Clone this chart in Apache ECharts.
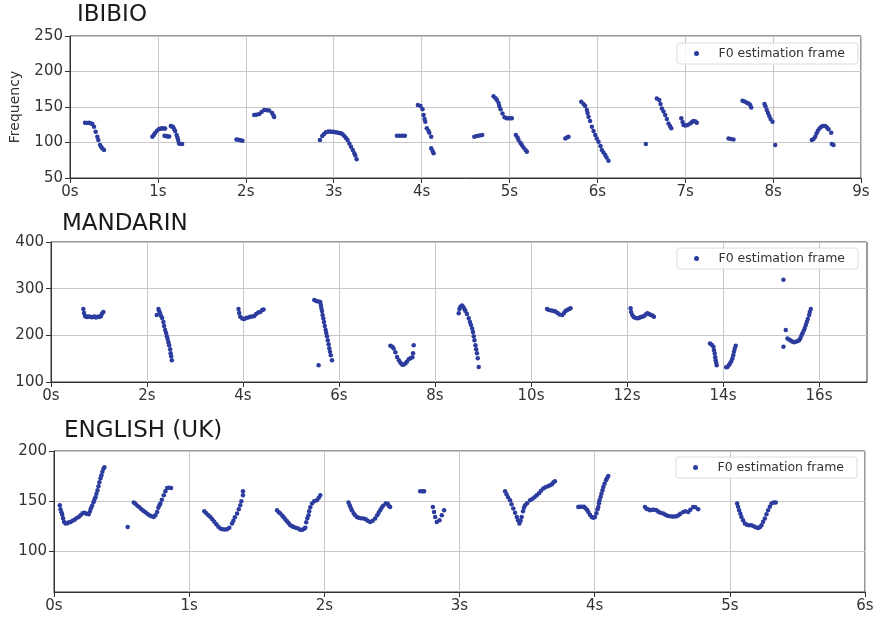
<!DOCTYPE html>
<html>
<head>
<meta charset="utf-8">
<title>F0 estimation</title>
<script src="https://cdn.jsdelivr.net/npm/echarts@6/dist/echarts.min.js"></script>
<style>
  html, body { margin: 0; padding: 0; background: #fff; }
  #chart { width: 877px; height: 619px; }
</style>
</head>
<body>
<div id="chart"></div>
<script>
var panelTitles = ['IBIBIO', 'MANDARIN', 'ENGLISH (UK)'];
var seriesName = 'F0 estimation frame';

// tick values
var ibibioXTicks = [0, 1, 2, 3, 4, 5, 6, 7, 8, 9];
var ibibioYTicks = [50, 100, 150, 200, 250];
var mandarinXTicks = [0, 2, 4, 6, 8, 10, 12, 14, 16];
var mandarinYTicks = [100, 200, 300, 400];
var englishXTicks = [0, 1, 2, 3, 4, 5, 6];
var englishYTicks = [100, 150, 200];

// [time (s), F0 (Hz)]
var ibibioPoints = [
  [0.171,127.8],[0.19,127.6],[0.216,127.8],[0.235,127],[0.254,126],[0.273,122.2],[0.292,115.1],[0.311,108.1],
  [0.322,103.4],[0.342,96.4],[0.355,93.5],[0.368,91.7],[0.387,89.4],
  [0.937,108.1],[0.953,110.5],[0.968,113.3],[0.99,116.5],[1.013,118.9],[1.03,119.5],[1.048,119.9],[1.065,119.8],
  [1.082,119.6],[1.075,109.5],[1.093,109],[1.11,108.6],[1.128,108.4],[1.147,123.1],[1.16,122.5],[1.173,121.7],
  [1.185,119],[1.196,116.1],[1.213,110.5],[1.222,107],[1.23,103.4],[1.24,98.5],[1.258,98],[1.276,97.8],
  [1.894,104.4],[1.915,104],[1.94,103],[1.962,102.4],
  [2.096,138.6],[2.12,139],[2.153,140],[2.18,143],[2.21,145.6],[2.24,145.5],[2.266,144.9],[2.3,141.4],[2.315,138],[2.323,135.8],
  [2.844,103.4],[2.87,109.1],[2.89,112],[2.912,114.3],[2.93,115],[2.95,115.4],[2.97,115.3],[2.995,115.1],[3.02,114.6],
  [3.041,114],[3.062,113.5],[3.083,112.9],[3.1,111.5],[3.121,109.1],[3.14,106.5],[3.158,103.4],[3.178,98.5],[3.197,94],
  [3.217,89.4],[3.235,84.7],[3.246,81.6],[3.261,76.3],
  [3.72,109.5],[3.75,109.5],[3.78,109.6],[3.81,109.4],
  [3.958,152.7],[3.988,151.3],[4.011,147],[4.023,138.6],[4.034,133],[4.042,129.2],[4.06,119.9],[4.08,116.1],[4.088,113.7],
  [4.11,108.1],[4.11,91.8],[4.125,88],[4.137,84.7],
  [4.6,108.1],[4.63,109],[4.66,110],[4.69,110.5],
  [4.819,165.3],[4.842,162.5],[4.857,159.7],[4.876,155.5],[4.884,151.3],[4.899,147],[4.921,141],[4.944,135.4],
  [4.967,134],[4.99,134],[5.01,134],[5.027,134],
  [5.073,110.5],[5.092,107],[5.104,103.4],[5.126,99.2],[5.141,96.4],[5.16,92.9],[5.183,89.4],[5.198,87],
  [5.635,105.8],[5.655,107],[5.672,108.1],
  [5.817,157.3],[5.843,154.1],[5.862,151.3],[5.881,145.6],[5.889,141.4],[5.9,136.2],[5.917,130.2],[5.938,122.2],
  [5.957,116.1],[5.976,110.5],[5.994,105.6],[6.013,101.1],[6.036,95],[6.051,89.4],[6.07,85.9],[6.09,82.3],[6.105,78.8],[6.127,74.3],
  [6.552,97.8],
  [6.677,162.1],[6.704,159.7],[6.719,154.1],[6.734,148],[6.753,143.5],[6.772,138.6],[6.791,133],[6.81,126.9],[6.827,123.1],[6.841,119.9],
  [6.955,134],[6.97,128.8],[6.981,124.5],[7.003,123.8],[7.026,124.5],[7.057,126.9],[7.077,128.8],[7.094,130.2],[7.117,129.5],[7.132,127.8],
  [7.493,105.8],[7.52,105],[7.549,104.4],
  [7.652,158.7],[7.675,157.6],[7.701,155.9],[7.72,154.8],[7.74,152.7],[7.751,149.4],
  [7.902,154.1],[7.914,150.6],[7.928,145.6],[7.942,141.4],[7.956,137.2],[7.971,133],[7.993,129.2],[8.024,96.4],
  [8.44,103.4],[8.46,104.9],[8.479,108.1],[8.494,112.6],[8.509,116.5],[8.528,119.6],[8.547,122.2],[8.568,123.1],
  [8.593,123.1],[8.613,121],[8.63,118.5],[8.661,113.7],[8.668,97.8],[8.687,96.4]
];

var mandarinPoints = [
  [0.674,256.4],[0.688,247.8],[0.709,241.4],[0.73,240],[0.751,239.2],[0.78,240.5],[0.813,239.9],[0.845,238.5],[0.876,239.2],
  [0.905,240.2],[0.938,238.2],[0.97,240],[1.001,239.2],[1.022,240.5],[1.043,241.4],[1.064,246.8],[1.091,250],
  [2.204,243.5],[2.238,256.4],[2.252,252.1],[2.273,247.8],[2.294,241.4],[2.315,237.1],[2.342,228.5],[2.357,219.9],
  [2.377,211.3],[2.398,204.8],[2.413,198.3],[2.43,191.9],[2.446,185.4],[2.461,179],[2.482,170.4],[2.492,161.8],[2.503,155.3],[2.517,146.7],
  [3.906,256.4],[3.921,247.8],[3.942,239.9],[3.983,236],[4.025,234.9],[4.067,237.1],[4.108,238.2],[4.15,239.9],[4.192,240.3],
  [4.234,241.4],[4.275,245.7],[4.317,248.9],[4.359,250],[4.4,254.3],[4.428,255.4],
  [5.485,275.8],[5.527,273.7],[5.568,272.6],[5.61,271.5],[5.621,265],[5.631,258.6],[5.646,252.1],[5.658,243.5],[5.673,236.4],
  [5.687,228.5],[5.704,219.9],[5.721,211.3],[5.735,204.8],[5.75,198.3],[5.766,189.7],[5.783,181.1],[5.798,172.5],[5.812,164.6],
  [5.829,157.5],[5.854,146.7],[5.575,135.9],
  [7.07,177.5],[7.112,175.7],[7.139,171.9],[7.174,163.9],[7.21,153.8],[7.247,146.7],[7.278,141.3],[7.314,137.4],[7.341,137],
  [7.383,139.6],[7.414,143.5],[7.452,148.8],[7.487,151],[7.529,153.2],[7.543,161.8],[7.556,179],
  [8.494,247.2],[8.509,256.4],[8.53,261.4],[8.561,264],[8.586,261.4],[8.613,256.4],[8.634,252.1],[8.665,245.7],[8.703,236.4],
  [8.728,228.5],[8.749,222],[8.774,214.9],[8.79,207],[8.807,198.3],[8.822,189.7],[8.843,179],[8.857,170.4],[8.874,161.8],
  [8.891,151],[8.911,132.3],
  [10.334,256.4],[10.371,254.3],[10.428,253.2],[10.469,252.1],[10.511,251.1],[10.553,247.8],[10.594,244.6],[10.651,243.5],
  [10.688,247.8],[10.72,252.1],[10.755,254.3],[10.793,256.4],[10.824,258],
  [12.075,258],[12.086,250],[12.111,243.5],[12.138,239.2],[12.18,237.1],[12.215,236.4],[12.253,237.1],[12.284,239.2],
  [12.32,239.9],[12.357,241.4],[12.388,244.6],[12.424,247.2],[12.461,245.7],[12.492,243.5],[12.528,242.5],[12.561,239.9],
  [13.729,182.6],[13.764,180],[13.8,175.3],[13.812,168.2],[13.827,161.1],[13.837,153.2],[13.848,146.7],[13.858,141.3],[13.869,135.9],
  [14.067,131.6],[14.092,132.3],[14.119,135.9],[14.146,139.6],[14.171,144.5],[14.196,150.4],[14.213,157.5],[14.229,164.6],
  [14.244,171.4],[14.265,177.5],
  [15.259,318.9],[15.308,211.3],[15.259,175.3],
  [15.343,193.4],[15.381,190.8],[15.412,188.7],[15.448,186.1],[15.485,185.4],[15.516,186.5],[15.558,187.6],[15.585,189.7],
  [15.61,194],[15.635,199.4],[15.656,204.2],[15.683,210.2],[15.704,215.6],[15.725,222],[15.746,228.5],[15.767,234.9],
  [15.794,243.5],[15.808,250],[15.829,256.4]
];

var englishPoints = [
  [0.043,145.7],[0.048,141.7],[0.055,138.7],[0.061,136.2],[0.067,132.7],[0.074,129.2],[0.085,127.4],[0.1,127.7],[0.111,128.7],
  [0.122,129],[0.137,130.2],[0.152,131.2],[0.166,132.7],[0.183,134],[0.196,135.7],[0.211,137.7],[0.225,138.2],[0.24,137.2],
  [0.257,136.7],[0.266,139.7],[0.273,142.7],[0.282,145.2],[0.292,148.7],[0.299,151.2],[0.307,153.7],[0.314,157.2],[0.322,160.7],
  [0.329,164.7],[0.336,168.7],[0.344,172.7],[0.351,175.7],[0.358,179.2],[0.366,182.2],[0.373,183.7],
  [0.545,124],
  [0.59,148.4],[0.602,147.2],[0.617,145.2],[0.632,143.7],[0.647,141.7],[0.661,140.2],[0.676,138.7],[0.691,137.2],[0.706,135.7],
  [0.721,134.7],[0.738,134],[0.75,135.7],[0.763,139],[0.772,143.2],[0.78,145.7],[0.787,147.4],[0.798,151.2],[0.812,155.7],
  [0.824,159.7],[0.837,163],[0.85,163.2],[0.866,163],
  [1.112,139.7],[1.127,137.7],[1.142,135.7],[1.157,134],[1.171,131.7],[1.186,129.2],[1.201,126.7],[1.216,124.2],[1.231,122.4],
  [1.246,121.7],[1.264,121.4],[1.28,121.7],[1.297,123.2],[1.317,127.4],[1.327,130.2],[1.338,133.7],[1.354,137.4],[1.367,141.7],
  [1.378,145.7],[1.386,149.7],[1.398,155.7],[1.398,159.7],
  [1.65,140.7],[1.663,138.7],[1.674,137.4],[1.689,135.2],[1.699,133.7],[1.711,131.7],[1.724,129.7],[1.737,127.7],[1.748,125.7],
  [1.763,124.7],[1.772,124],[1.789,123.2],[1.807,122.4],[1.822,121.2],[1.837,121.2],[1.851,122.2],[1.859,123.2],[1.866,128.7],
  [1.874,132.7],[1.883,135.7],[1.888,139.7],[1.896,143.7],[1.909,147.4],[1.925,149.7],[1.945,150.7],[1.959,153.2],[1.97,155.7],
  [2.179,148.4],[2.188,145.7],[2.195,143.2],[2.204,140.7],[2.217,137.7],[2.228,135.7],[2.241,134],[2.254,133.2],[2.269,132.7],
  [2.29,132.4],[2.306,131.7],[2.321,130.2],[2.339,129],[2.358,130.2],[2.376,132.4],[2.391,135.7],[2.402,138.2],[2.413,140.7],
  [2.424,143.2],[2.435,145.2],[2.454,147.4],[2.469,147.2],[2.476,145.2],[2.487,144],
  [2.709,159.7],[2.729,159.7],[2.738,159.7],
  [2.803,144],[2.812,139],[2.82,134],[2.832,129],[2.852,130.7],[2.869,135.7],[2.886,140.7],
  [3.337,159.7],[3.348,156.7],[3.359,153.7],[3.374,150.7],[3.385,146.7],[3.398,142.4],[3.411,138.2],[3.424,134],[3.433,130.7],
  [3.443,127.4],[3.452,130.2],[3.46,134],[3.47,139.7],[3.477,143.2],[3.485,145.7],[3.5,147.7],[3.522,150.7],[3.54,152.2],
  [3.555,153.7],[3.571,155.7],[3.588,157.7],[3.603,160.2],[3.62,162.4],[3.636,163.7],[3.655,164.7],[3.67,165.7],[3.684,166.7],
  [3.695,168.7],[3.706,169.7],
  [3.879,144],[3.891,144.2],[3.906,144.2],[3.921,144.2],[3.932,142.7],[3.943,141.2],[3.953,139],[3.965,136.2],[3.978,134],
  [3.991,133.2],[4.002,134],[4.013,137.7],[4.021,141.7],[4.027,144],[4.032,147.7],[4.036,150.7],[4.044,154],[4.05,157.2],
  [4.058,160.7],[4.064,164],[4.073,167.2],[4.084,170.7],[4.091,172.7],[4.101,175],
  [4.372,144],[4.383,142.2],[4.394,141.7],[4.409,140.7],[4.424,141.2],[4.439,141.2],[4.458,140.7],[4.471,139.2],[4.486,138.2],
  [4.507,137.4],[4.523,136.2],[4.538,135.2],[4.557,134.7],[4.575,134.5],[4.59,134.5],[4.606,134.7],[4.62,135.7],[4.634,137.2],
  [4.655,139],[4.671,139.7],[4.692,139],[4.708,141.2],[4.729,144],[4.745,143.7],[4.766,141.7],
  [5.054,147.4],[5.061,144.2],[5.069,140.7],[5.078,137.2],[5.086,134],[5.098,130.7],[5.111,127.4],[5.126,126.2],[5.142,125.7],
  [5.16,125.7],[5.177,124.7],[5.192,123.7],[5.209,123],[5.222,123.7],[5.234,125.7],[5.246,129.2],[5.259,132.4],[5.271,136.7],
  [5.283,140.7],[5.296,144.2],[5.308,147.4],[5.325,148.4],[5.34,148.4]
];

var font = 'DejaVu Sans';
var dotColor = '#2c3c9e';

function xAxisFor(idx, ticks, max) {
  return {
    type: 'value', gridIndex: idx, min: 0, max: max, interval: ticks[1] - ticks[0],
    axisLine: { show: true, lineStyle: { color: '#333', width: 1 } },
    axisTick: { show: true, length: 5, lineStyle: { color: '#333' }, customValues: ticks },
    axisLabel: { color: '#333', fontSize: 15, fontFamily: font, margin: 7, customValues: ticks,
      formatter: function (v) { return v + 's'; } },
    splitLine: { show: true, lineStyle: { color: '#c8c8c8', width: 1 } }
  };
}

function yAxisFor(idx, ticks, min, max) {
  return {
    type: 'value', gridIndex: idx, min: min, max: max,
    axisLine: { show: true, lineStyle: { color: '#333', width: 1 } },
    axisTick: { show: true, length: 5, lineStyle: { color: '#333' }, customValues: ticks },
    axisLabel: { color: '#333', fontSize: 15, fontFamily: font, margin: 7, customValues: ticks },
    splitLine: { show: true, lineStyle: { color: '#c8c8c8', width: 1 } }
  };
}

function legendFor(left, top) {
  return {
    left: left, top: top, orient: 'horizontal',
    data: [{ name: seriesName, icon: 'circle' }],
    itemWidth: 28, itemHeight: 5, itemGap: 0,
    padding: [4, 13, 4, 17],
    backgroundColor: 'rgba(255,255,255,0.85)',
    borderColor: '#dcdcdc', borderWidth: 1, borderRadius: 3,
    textStyle: { color: '#333', fontSize: 12.5, fontFamily: font, padding: [0, 0, 0, 3] },
    selectedMode: false
  };
}

function scatterFor(idx, points) {
  return {
    name: seriesName, type: 'scatter', xAxisIndex: idx, yAxisIndex: idx,
    data: points, symbolSize: 4.5, itemStyle: { color: dotColor, opacity: 1 },
    animation: false
  };
}

var yFreq = yAxisFor(0, ibibioYTicks, 50, 250);
yFreq.interval = 50;
yFreq.name = 'Frequency';
yFreq.nameLocation = 'middle';
yFreq.nameRotate = 90;
yFreq.nameGap = 48;
yFreq.nameTextStyle = { color: '#333', fontSize: 14, fontFamily: font };

var yMandarin = yAxisFor(1, mandarinYTicks, 100, 400);
yMandarin.interval = 100;

var yEnglish = yAxisFor(2, englishYTicks, 59, 200);

var option = {
  backgroundColor: '#fff',
  animation: false,
  title: [
    { text: panelTitles[0], left: 77, top: 4, padding: 0, textStyle: { fontSize: 23, fontWeight: 'normal', color: '#1a1a1a', fontFamily: font } },
    { text: panelTitles[1], left: 62, top: 213, padding: 0, textStyle: { fontSize: 23, fontWeight: 'normal', color: '#1a1a1a', fontFamily: font } },
    { text: panelTitles[2], left: 64, top: 420, padding: 0, textStyle: { fontSize: 23, fontWeight: 'normal', color: '#1a1a1a', fontFamily: font } }
  ],
  legend: [legendFor(677, 43), legendFor(677, 248), legendFor(676, 457)],
  grid: [
    { left: 70, right: 16, top: 36, height: 142, show: true, borderColor: '#333', borderWidth: 1 },
    { left: 51, right: 10, top: 242, height: 140, show: true, borderColor: '#333', borderWidth: 1 },
    { left: 54, right: 12, top: 451, height: 141, show: true, borderColor: '#333', borderWidth: 1 }
  ],
  xAxis: [
    xAxisFor(0, ibibioXTicks, 9),
    xAxisFor(1, mandarinXTicks, 17),
    xAxisFor(2, englishXTicks, 6)
  ],
  yAxis: [yFreq, yMandarin, yEnglish],
  series: [
    scatterFor(0, ibibioPoints),
    scatterFor(1, mandarinPoints),
    scatterFor(2, englishPoints)
  ]
};

var chart = echarts.init(document.getElementById('chart'));
chart.setOption(option);
</script>
</body>
</html>
